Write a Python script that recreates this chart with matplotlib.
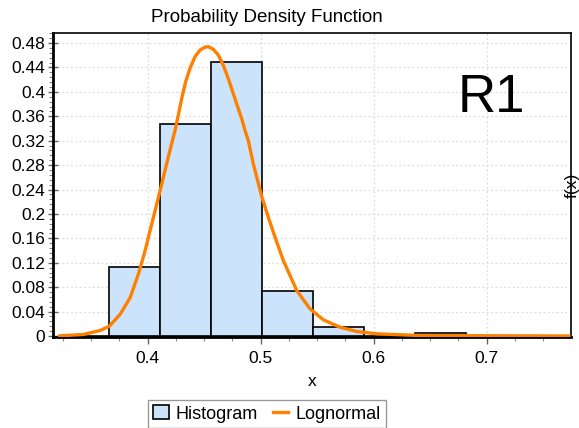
import matplotlib
matplotlib.use("Agg")
import matplotlib.pyplot as plt
from matplotlib.ticker import MultipleLocator, FuncFormatter
from matplotlib.patches import Patch
from matplotlib.lines import Line2D

plt.rcParams['font.family'] = ['Liberation Sans', 'DejaVu Sans']

# Histogram (relative frequency), bin left edges and width
bin_left = [0.3209, 0.3660, 0.4111, 0.4562, 0.5013, 0.5464, 0.5915, 0.6366, 0.6817, 0.7268]
bin_width = 0.0451
hist_vals = [0.0, 0.1128, 0.3467, 0.4489, 0.0734, 0.0144, 0.0, 0.0046, 0.0, 0.0]

# Lognormal curve, points
curve_x = [0.3218, 0.343, 0.3578, 0.366, 0.3755, 0.3844, 0.3917, 0.3976, 0.402, 0.4109,
           0.4182, 0.4242, 0.4265, 0.4301, 0.4336, 0.4374, 0.4419, 0.4463, 0.4508, 0.4536,
           0.4581, 0.4625, 0.4669, 0.4713, 0.4758, 0.4802, 0.4832, 0.4861, 0.489, 0.4935,
           0.5009, 0.5067, 0.5127, 0.52, 0.5319, 0.5436, 0.5554, 0.5702, 0.585, 0.6027,
           0.641, 0.7729]
curve_y = [0.0003, 0.0025, 0.009, 0.016, 0.0354, 0.0626, 0.101, 0.139, 0.172, 0.2375,
           0.293, 0.337, 0.3566, 0.3893, 0.4166, 0.4385, 0.4577, 0.4685, 0.4734, 0.4741,
           0.4697, 0.4604, 0.4439, 0.4218, 0.3969, 0.3723, 0.3559, 0.337, 0.3205, 0.282,
           0.2287, 0.1948, 0.162, 0.1238, 0.0746, 0.0446, 0.0266, 0.0144, 0.0074, 0.0036,
           0.0008, 0.0]

fig = plt.figure(figsize=(5.79, 4.28), dpi=100)
ax = fig.add_axes([53/579, 1-337/428, (571-53)/579, (337-33)/428])

ax.bar(bin_left, hist_vals, width=bin_width, align='edge', color='#cce4fb',
       edgecolor='black', linewidth=1.2, zorder=2)
ax.plot(curve_x, curve_y, color='#ff7f00', linewidth=2.4, zorder=3,
        solid_joinstyle='round', solid_capstyle='round')

ax.set_xlim(0.3162, 0.7746)
ax.set_ylim(-0.0016, 0.4965)

ax.xaxis.set_major_locator(MultipleLocator(0.1))
ax.xaxis.set_minor_locator(MultipleLocator(0.025))
ax.yaxis.set_major_locator(MultipleLocator(0.04))
ax.yaxis.set_minor_locator(MultipleLocator(0.008))

def fmt(v, pos):
    s = ('%.2f' % v).rstrip('0').rstrip('.')
    return s if s != '-0' else '0'
ax.xaxis.set_major_formatter(FuncFormatter(fmt))
ax.yaxis.set_major_formatter(FuncFormatter(fmt))

ax.tick_params(axis='both', which='major', labelsize=12.5, colors='#666666',
               labelcolor='black', length=5, width=1)
ax.tick_params(axis='y', which='major', direction='inout', length=7, pad=2)
ax.tick_params(axis='both', which='minor', colors='#888888', length=3, width=0.8)
ax.tick_params(axis='x', which='major', pad=5)

ax.grid(True, which='major', color='#dcdcdc', linestyle=(0, (1.5, 2)), linewidth=0.9, zorder=0)
ax.set_axisbelow(True)

for side in ['left', 'bottom']:
    ax.spines[side].set_linewidth(2)
for side in ['top', 'right']:
    ax.spines[side].set_linewidth(1.2)

ax.set_xlabel('x', fontsize=12.5, labelpad=6)
fig.text(572/579, 1-185/428, 'f(x)', rotation=90, ha='center', va='center', fontsize=12.5)
fig.text(267/579, 1-17/428, 'Probability Density Function', ha='center', va='center', fontsize=13.5)
fig.text(491/579, 1-98/428, 'R1', ha='center', va='center', fontsize=38)

handles = [Patch(facecolor='#cce4fb', edgecolor='black', linewidth=1.2),
           Line2D([0], [0], color='#ff7f00', linewidth=2.4)]
leg = fig.legend(handles, ['Histogram', 'Lognormal'], loc='upper left',
                 bbox_to_anchor=(148/579, 1-400/428), ncol=2, fontsize=13,
                 frameon=True, fancybox=False, edgecolor='#999999', framealpha=1,
                 borderaxespad=0, handlelength=0.85, handleheight=0.8, handletextpad=0.4,
                 columnspacing=0.8, borderpad=0.3)
leg.get_frame().set_linewidth(1)

fig.savefig('out.png', dpi=100)
